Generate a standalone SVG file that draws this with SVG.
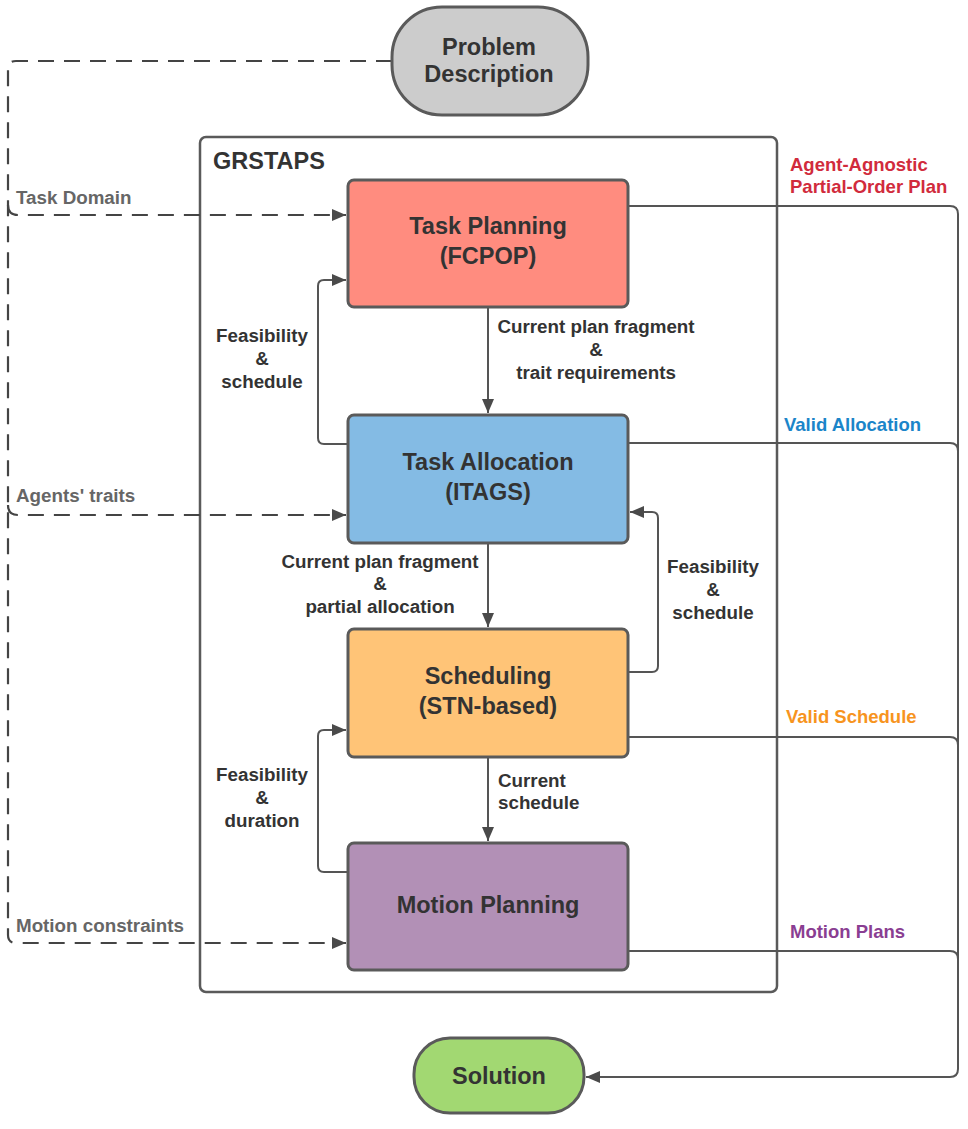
<svg xmlns="http://www.w3.org/2000/svg" width="968" height="1129" viewBox="0 0 968 1129">
<defs>
<style>
.box{stroke:#5a5a5a;stroke-width:3}
.t{font-family:"Liberation Sans",Arial,sans-serif;font-weight:bold;fill:#333;text-anchor:middle}
.title{font-size:23.5px}
.lbl{font-family:"Liberation Sans",Arial,sans-serif;font-weight:bold;font-size:18.8px;fill:#333;text-anchor:middle}
.in{font-family:"Liberation Sans",Arial,sans-serif;font-weight:bold;font-size:18.8px;fill:#666}
.out{font-family:"Liberation Sans",Arial,sans-serif;font-weight:bold;font-size:18.5px}
.c{fill:none;stroke:#555;stroke-width:2}
.d{fill:none;stroke:#444;stroke-width:2.2;stroke-dasharray:16 10}
</style>
<marker id="ah" viewBox="0 0 14 12" refX="14" refY="6" markerWidth="14" markerHeight="12" markerUnits="userSpaceOnUse" orient="auto">
<path d="M0,0 L14,6 L0,12 Z" fill="#4a4a4a"/>
</marker>
</defs>
<rect width="968" height="1129" fill="#fff"/>

<g id="grstaps">
<rect x="200" y="137" width="577" height="855" rx="6" fill="none" stroke="#5a5a5a" stroke-width="2.5"/>
<text x="213" y="169" class="t title" style="text-anchor:start">GRSTAPS</text>
</g>

<g id="connectors">
<path class="d" d="M392,61 H16 Q8,61 8,69 V935 Q8,943 16,943 H346" marker-end="url(#ah)"/>
<path class="d" d="M8,205 Q8,215 18,215 H346" marker-end="url(#ah)"/>
<path class="d" d="M8,505 Q8,515 18,515 H346" marker-end="url(#ah)"/>
<path class="c" d="M488,307 V413" marker-end="url(#ah)"/>
<path class="c" d="M488,543 V627" marker-end="url(#ah)"/>
<path class="c" d="M488,757 V841" marker-end="url(#ah)"/>
<path class="c" d="M348,444 H324 Q318,444 318,438 V286 Q318,280 324,280 H346" marker-end="url(#ah)"/>
<path class="c" d="M628,672 H652 Q658,672 658,666 V518 Q658,512 652,512 H630" marker-end="url(#ah)"/>
<path class="c" d="M348,872 H324 Q318,872 318,866 V736 Q318,730 324,730 H346" marker-end="url(#ah)"/>
<path class="c" d="M628,206 H950 Q958,206 958,214 V1069 Q958,1077 950,1077 H586" marker-end="url(#ah)"/>
<path class="c" d="M628,443 H950 Q958,443 958,451"/>
<path class="c" d="M628,737 H950 Q958,737 958,745"/>
<path class="c" d="M628,951 H950 Q958,951 958,959"/>
</g>

<g id="problem">
<rect x="392" y="7" width="196" height="108" rx="50" fill="#CCCCCC" class="box"/>
<text x="489" y="55" class="t title">Problem</text>
<text x="489" y="82" class="t title">Description</text>
</g>

<g id="task-planning">
<rect x="348" y="180" width="280" height="127" rx="6" fill="#FF8C7F" class="box"/>
<text x="488" y="234" class="t title">Task Planning</text>
<text x="488" y="264" class="t title">(FCPOP)</text>
</g>

<g id="task-allocation">
<rect x="348" y="415" width="280" height="128" rx="6" fill="#84BBE4" class="box"/>
<text x="488" y="470" class="t title">Task Allocation</text>
<text x="488" y="500" class="t title">(ITAGS)</text>
</g>

<g id="scheduling">
<rect x="348" y="629" width="280" height="128" rx="6" fill="#FFC477" class="box"/>
<text x="488" y="684" class="t title">Scheduling</text>
<text x="488" y="714" class="t title">(STN-based)</text>
</g>

<g id="motion-planning">
<rect x="348" y="843" width="280" height="127" rx="6" fill="#B290B6" class="box"/>
<text x="488" y="913" class="t title">Motion Planning</text>
</g>

<g id="solution">
<rect x="414" y="1038" width="170" height="75" rx="36" fill="#A2D872" class="box"/>
<text x="499" y="1084" class="t title">Solution</text>
</g>

<g id="labels">
<text class="lbl" x="596" y="333">Current plan fragment</text>
<text class="lbl" x="596" y="356">&amp;</text>
<text class="lbl" x="596" y="379">trait requirements</text>

<text class="lbl" x="262" y="342">Feasibility</text>
<text class="lbl" x="262" y="365">&amp;</text>
<text class="lbl" x="262" y="388">schedule</text>

<text class="lbl" x="380" y="568">Current plan fragment</text>
<text class="lbl" x="380" y="590">&amp;</text>
<text class="lbl" x="380" y="613">partial allocation</text>

<text class="lbl" x="713" y="573">Feasibility</text>
<text class="lbl" x="713" y="596">&amp;</text>
<text class="lbl" x="713" y="619">schedule</text>

<text class="lbl" x="498" y="787" style="text-anchor:start">Current</text>
<text class="lbl" x="498" y="809" style="text-anchor:start">schedule</text>

<text class="lbl" x="262" y="781">Feasibility</text>
<text class="lbl" x="262" y="804">&amp;</text>
<text class="lbl" x="262" y="827">duration</text>

<text class="in" x="16" y="204">Task Domain</text>
<text class="in" x="16" y="502">Agents' traits</text>
<text class="in" x="16" y="932">Motion constraints</text>

<text class="out" x="790" y="171" fill="#D12B3C">Agent-Agnostic</text>
<text class="out" x="790" y="193" fill="#D12B3C">Partial-Order Plan</text>
<text class="out" x="784" y="431" fill="#1B85C9">Valid Allocation</text>
<text class="out" x="786" y="723" fill="#F7941E">Valid Schedule</text>
<text class="out" x="790" y="938" fill="#8A3E92">Motion Plans</text>
</g>
</svg>
